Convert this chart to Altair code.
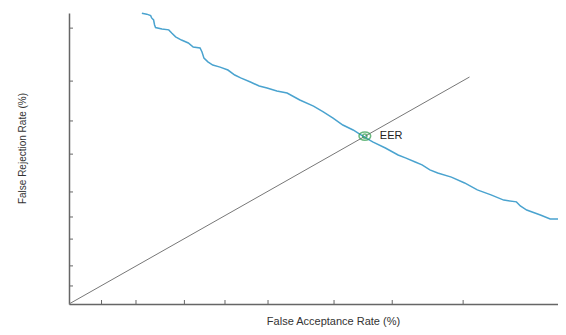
import altair as alt
import pandas as pd

# FRR curve (False Acceptance Rate vs False Rejection Rate)
far = [14.9, 15.9, 16.7, 16.9, 17.3, 17.5, 17.7, 19.0, 20.4, 21.0, 21.8, 23.0, 24.4, 25.4,
       26.8, 27.2, 27.6, 28.4, 29.4, 30.9, 32.5, 33.9, 35.1, 37.1, 38.9, 40.5, 42.5, 44.6,
       47.2, 50.0, 52.0, 54.0, 56.0, 58.1, 60.1, 62.1, 64.7, 67.3, 68.8, 70.8, 72.2, 73.8,
       75.4, 78.2, 80.9, 83.5, 86.3, 88.9, 91.5, 92.3, 93.6, 96.4, 98.4, 100.0]
frr = [99.9, 99.6, 99.1, 98.3, 97.6, 95.9, 95.0, 94.5, 94.2, 93.1, 91.8, 90.7, 89.7, 88.3,
       88.0, 86.6, 84.5, 83.2, 82.1, 81.4, 80.4, 78.7, 77.7, 76.3, 74.9, 74.2, 73.2, 72.5,
       70.1, 68.0, 66.0, 63.9, 61.5, 59.8, 57.7, 55.7, 53.6, 51.2, 50.2, 48.8, 47.8, 46.1,
       45.0, 43.6, 41.6, 39.2, 37.5, 35.7, 35.1, 33.7, 32.3, 30.6, 29.2, 29.2]

# Reference diagonal (FAR = FRR line)
diag_x = [0.0, 81.9]
diag_y = [0.0, 78.0]

# Equal error rate point
eer_x = [60.5]
eer_y = [57.7]
eer_label = ["EER"]

# Tick positions (unlabelled)
x_ticks = [6.65, 13.7, 23.6, 31.9, 40.7, 54.2, 66.1, 80.6]
y_ticks = [94.8, 76.6, 62.9, 51.5, 38.5, 29.9, 22.3, 13.1, 6.2]

W, H = 489, 291

curve_df = pd.DataFrame({"far": far, "frr": frr})
diag_df = pd.DataFrame({"far": diag_x, "frr": diag_y})
eer_df = pd.DataFrame({"far": eer_x, "frr": eer_y, "label": eer_label})
xt_df = pd.DataFrame({"far": x_ticks})
yt_df = pd.DataFrame({"frr": y_ticks})

xs = alt.Scale(domain=[0, 100], nice=False, zero=False)
ys = alt.Scale(domain=[0, 100], nice=False, zero=False)

x_axis = alt.Axis(
    title="False Acceptance Rate (%)", labels=False, ticks=False, grid=False,
    domainColor="#666666", domainWidth=1.5,
    titleFont="Liberation Sans", titleFontSize=11, titleFontWeight="normal",
    titleColor="#333333", titleX=264, titleY=17, titleBaseline="middle",
    titleAlign="center",
)
y_axis = alt.Axis(
    title="False Rejection Rate (%)", labels=False, ticks=False, grid=False,
    domainColor="#666666", domainWidth=1.5,
    titleFont="Liberation Sans", titleFontSize=10, titleFontWeight="normal",
    titleColor="#333333", titleX=-47, titleY=135, titleBaseline="middle",
    titleAlign="center", titleAngle=-90,
)

diag = alt.Chart(diag_df).mark_line(color="#777777", strokeWidth=1).encode(
    x=alt.X("far:Q", scale=xs, axis=x_axis),
    y=alt.Y("frr:Q", scale=ys, axis=y_axis),
)

curve = alt.Chart(curve_df).mark_line(color="#4aa3cf", strokeWidth=1.5).encode(
    x=alt.X("far:Q", scale=xs),
    y=alt.Y("frr:Q", scale=ys),
    order="far:Q",
)

eer_pt = alt.Chart(eer_df).mark_point(
    shape="M -1.4 0 A 1.4 1 0 1 0 1.4 0 A 1.4 1 0 1 0 -1.4 0 M -0.5 0 A 0.5 0.5 0 1 0 0.5 0 A 0.5 0.5 0 1 0 -0.5 0",
    size=70, filled=False, stroke="#2f9e4c", strokeWidth=1.5,
).encode(x=alt.X("far:Q", scale=xs), y=alt.Y("frr:Q", scale=ys))

eer_txt = alt.Chart(eer_df).mark_text(
    align="left", baseline="middle", dx=15, dy=0, fontSize=11,
    font="Liberation Sans", color="#222222",
).encode(x=alt.X("far:Q", scale=xs), y=alt.Y("frr:Q", scale=ys), text="label:N")

xticks = alt.Chart(xt_df).mark_rule(color="#666666", strokeWidth=1).encode(
    x=alt.X("far:Q", scale=xs), y=alt.value(H), y2=alt.value(H - 4)
)
yticks = alt.Chart(yt_df).mark_rule(color="#666666", strokeWidth=1).encode(
    y=alt.Y("frr:Q", scale=ys), x=alt.value(0), x2=alt.value(4)
)

chart = alt.layer(diag, curve, xticks, yticks, eer_pt, eer_txt).properties(
    width=W, height=H,
    background="white",
    autosize=alt.AutoSizeParams(type="none"),
    padding={"left": 61, "top": 5, "right": 0, "bottom": 23},
).configure_view(stroke=None)

chart.save("out.html", embed_options={"renderer": "svg", "actions": False})
